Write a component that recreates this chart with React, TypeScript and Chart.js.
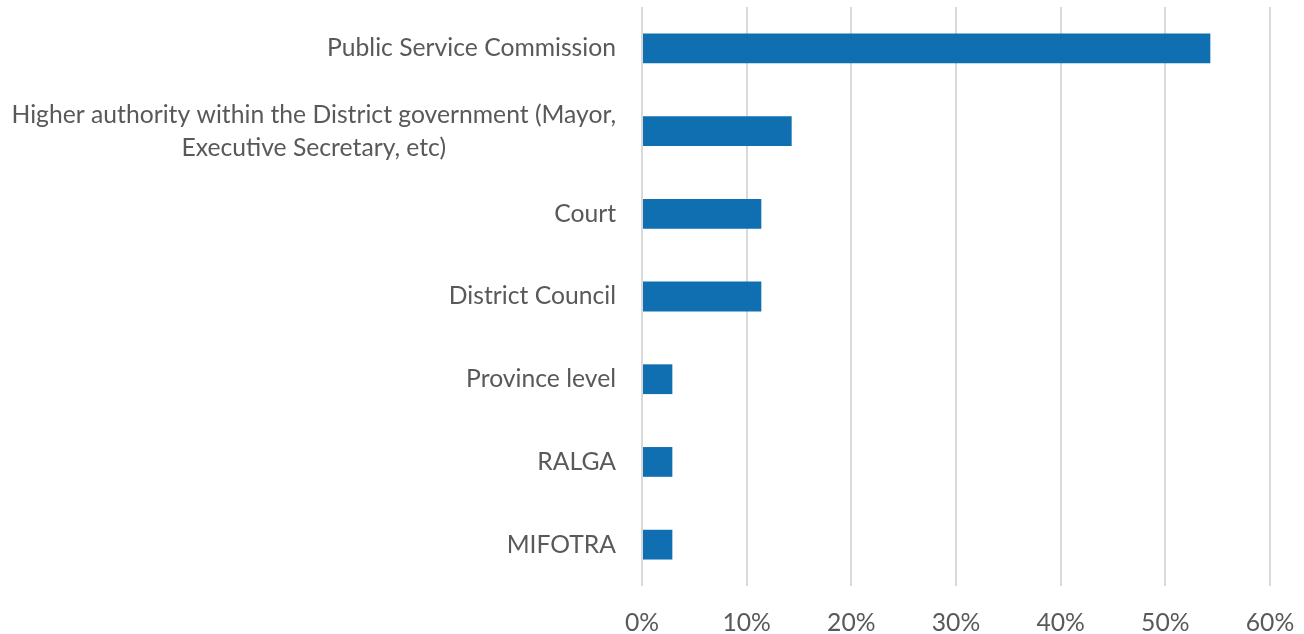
import React, { useEffect, useRef } from "react";
import { Chart, registerables } from "chart.js";

Chart.register(...registerables);

const categories: string[][] = [
  ["Public Service Commission"],
  ["Higher authority within the District government (Mayor,", "Executive Secretary, etc)"],
  ["Court"],
  ["District Council"],
  ["Province level"],
  ["RALGA"],
  ["MIFOTRA"],
];
const values: number[] = [54.3, 14.3, 11.4, 11.4, 2.9, 2.9, 2.9];
const xMin = 0;
const xMax = 60;
const xStep = 10;

const FONT = "Lato";
const FONT_SIZE = 24.7;
const TEXT_COLOR = "#595959";
const BAR_COLOR = "#0f6fb0";
const GRID_COLOR = "#d9d9d9";

const labelPlugin = {
  id: "rightAlignedCenteredLabels",
  afterDraw(chart: any) {
    const ctx = chart.ctx;
    const yScale = chart.scales.y;
    const labels = chart.data.labels as string[][];
    const rightX = yScale.right - 26;
    const lineH = 33;
    ctx.save();
    ctx.font = `${FONT_SIZE}px ${FONT}`;
    ctx.fillStyle = TEXT_COLOR;
    ctx.textAlign = "center";
    ctx.textBaseline = "middle";
    labels.forEach((lines, i) => {
      const cy = yScale.getPixelForTick(i);
      const widest = Math.max(...lines.map((l) => ctx.measureText(l).width));
      const cx = rightX - widest / 2;
      const y0 = cy - ((lines.length - 1) * lineH) / 2;
      lines.forEach((l, j) => ctx.fillText(l, cx, y0 + j * lineH));
    });
    ctx.restore();
  },
};

export default function App() {
  const ref = useRef<HTMLCanvasElement | null>(null);
  useEffect(() => {
    if (!ref.current) return;
    const chart = new Chart(ref.current, {
      type: "bar",
      data: {
        labels: categories as any,
        datasets: [
          {
            data: values,
            backgroundColor: BAR_COLOR,
            borderWidth: 0,
            barPercentage: 0.36,
            categoryPercentage: 1,
          },
        ],
      },
      options: {
        indexAxis: "y",
        animation: false,
        responsive: false,
        devicePixelRatio: 1,
        layout: { padding: { top: 7, right: 34, left: 0, bottom: 0 } },
        plugins: { legend: { display: false }, tooltip: { enabled: false } },
        scales: {
          x: {
            min: xMin,
            max: xMax,
            grid: { color: GRID_COLOR, lineWidth: 2, drawTicks: false },
            border: { display: false },
            ticks: {
              stepSize: xStep,
              padding: 22,
              color: TEXT_COLOR,
              font: { family: FONT, size: FONT_SIZE },
              callback: (v: any) => `${v}%`,
              maxRotation: 0,
            },
            afterFit: (s: any) => {
              s.height = 48;
              s.paddingLeft = 0;
              s.paddingRight = 0;
            },
          },
          y: {
            grid: { display: false },
            border: { display: false },
            ticks: { display: false },
            afterFit: (s: any) => {
              s.width = 642;
              s.paddingTop = 0;
              s.paddingBottom = 0;
            },
          },
        },
      },
      plugins: [labelPlugin],
    });
    return () => chart.destroy();
  }, []);
  return (
    <div style={{ position: "fixed", left: 0, top: 0, width: 1304, height: 634, background: "#fff" }}>
      <canvas ref={ref} width={1304} height={634} />
    </div>
  );
}
